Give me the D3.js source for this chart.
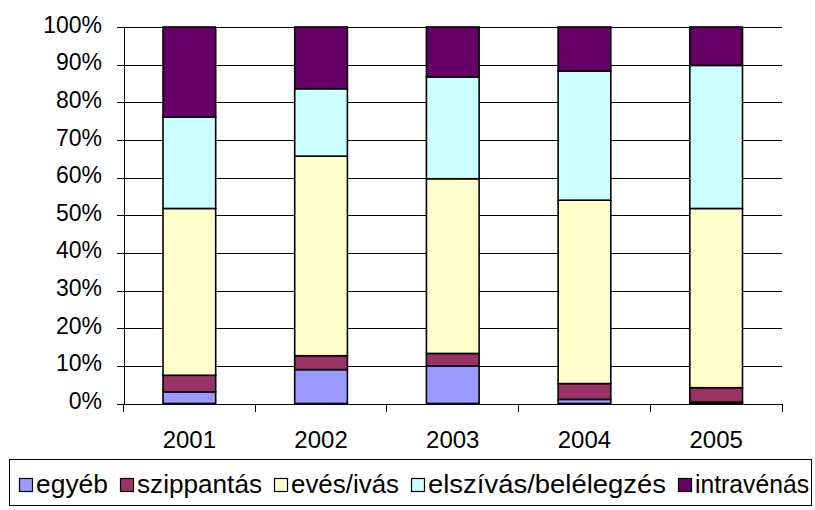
<!DOCTYPE html>
<html lang="hu">
<head>
<meta charset="UTF-8">
<title>Chart</title>
<style>
body { margin: 0; background: #fff; }
svg text { font-family: 'Liberation Sans', Arial, sans-serif; fill: #000; }
</style>
<script src="https://cdn.jsdelivr.net/npm/d3@7/dist/d3.min.js"></script>
</head>
<body>
<script>
// categories and series (percent shares)
const years = ["2001", "2002", "2003", "2004", "2005"];
const seriesNames = ["egyéb", "szippantás", "evés/ivás", "elszívás/belélegzés", "intravénás"];
const egyeb      = [3.1, 9.0, 10.0, 1.1, 0.4];
const szippantas = [4.4, 3.7, 3.3, 4.2, 3.8];
const evesIvas   = [44.3, 53.0, 46.4, 48.7, 47.6];
const elszivas   = [24.3, 17.9, 27.0, 34.3, 38.0];
const intravenas = [23.9, 16.4, 13.3, 11.7, 10.2];
const yTicks = [0, 10, 20, 30, 40, 50, 60, 70, 80, 90, 100];
const colors = ["#9999ff", "#993366", "#ffffcc", "#ccffff", "#660066"];

const width = 815, height = 510;
const plot = {left: 123.5, right: 782, top: 27, bottom: 403.5};
const font = "'Liberation Sans', Arial, sans-serif";

const svg = d3.select("body").append("svg")
    .attr("width", width)
    .attr("height", height);

// build rows for the stack
const seriesValues = [egyeb, szippantas, evesIvas, elszivas, intravenas];
const rows = years.map((yr, i) => {
    let r = {year: yr};
    seriesNames.forEach((s, j) => r[s] = seriesValues[j][i]);
    return r;
});
const stacked = d3.stack().keys(seriesNames)
    .offset(d3.stackOffsetExpand)(rows);

const x = d3.scaleBand().domain(years)
    .range([plot.left, plot.right])
    .paddingInner(0.6).paddingOuter(0.3);
const y = d3.scaleLinear().domain([0, 1]).range([plot.bottom, plot.top]);

// gridlines
svg.append("g")
    .attr("transform", `translate(${plot.left},0)`)
    .call(d3.axisLeft(y).tickValues(yTicks.map(t => t / 100))
        .tickSize(-(plot.right - plot.left)).tickFormat(""))
    .call(g => g.select(".domain").remove())
    .call(g => g.selectAll("line").attr("stroke", "#000").attr("shape-rendering", "crispEdges"));

// bars
svg.append("g").selectAll("g")
    .data(stacked)
    .join("g")
    .attr("fill", (d, i) => colors[i])
    .selectAll("rect")
    .data(d => d)
    .join("rect")
    .attr("x", d => x(d.data.year))
    .attr("width", x.bandwidth())
    .attr("y", d => y(d[1]))
    .attr("height", d => y(d[0]) - y(d[1]))
    .attr("stroke", "#000")
    .attr("stroke-width", 1.6);

// y axis
svg.append("g")
    .attr("transform", `translate(${plot.left},0)`)
    .call(d3.axisLeft(y).tickValues(yTicks.map(t => t / 100))
        .tickSize(7).tickPadding(14.5).tickFormat(d3.format(".0%")))
    .call(g => g.select(".domain").attr("stroke", "#000").attr("shape-rendering", "crispEdges"))
    .call(g => g.selectAll("line").attr("stroke", "#000").attr("shape-rendering", "crispEdges"))
    .call(g => g.selectAll("text").attr("font-size", 23).attr("dy", "0.22em")
        .style("font-family", font));

// x axis (labels centred, ticks between categories)
svg.append("g")
    .attr("transform", `translate(0,${plot.bottom})`)
    .call(d3.axisBottom(x).tickSize(0).tickPadding(27))
    .call(g => g.select(".domain").attr("stroke", "#000").attr("shape-rendering", "crispEdges"))
    .call(g => g.selectAll("text").attr("font-size", 24)
        .style("font-family", font));

const bounds = years.map(yr => x(yr) - x.step() * x.paddingOuter()).concat([plot.right]);
svg.append("g").selectAll("line")
    .data(bounds)
    .join("line")
    .attr("x1", d => d).attr("x2", d => d)
    .attr("y1", plot.bottom).attr("y2", plot.bottom + 8)
    .attr("stroke", "#000")
    .attr("shape-rendering", "crispEdges");

// legend
const legend = svg.append("g");
legend.append("rect")
    .attr("x", 9.5).attr("y", 459.5)
    .attr("width", 802).attr("height", 46)
    .attr("fill", "#fff").attr("stroke", "#000");

// swatch left edges and text right edges of the legend entries
const swatchX = [19, 120, 274, 411, 678];
const textEnd = [108, 262, 399, 666, 809];
seriesNames.forEach((name, i) => {
    const item = legend.append("g").attr("transform", `translate(${swatchX[i]},0)`);
    item.append("rect")
        .attr("x", 0.5).attr("y", 478.5)
        .attr("width", 13).attr("height", 13)
        .attr("fill", colors[i]).attr("stroke", "#000").attr("stroke-width", 1.2);
    item.append("text")
        .attr("x", 17).attr("y", 492.5)
        .attr("font-size", 26)
        .attr("textLength", textEnd[i] - swatchX[i] - 17)
        .attr("lengthAdjust", "spacingAndGlyphs")
        .text(name);
});
</script>
</body>
</html>
